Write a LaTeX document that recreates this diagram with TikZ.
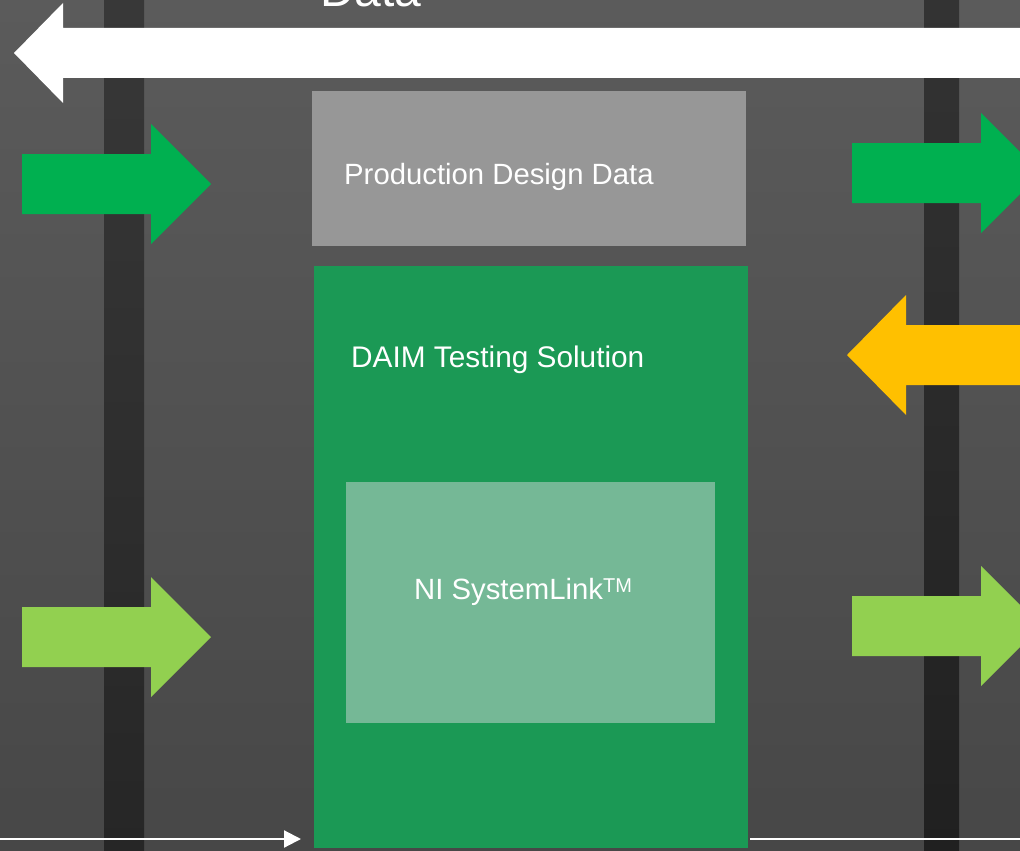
\documentclass[tikz,border=0pt]{standalone}
\usepackage{fontspec}
\setmainfont{Liberation Sans}
\usetikzlibrary{arrows.meta}
\definecolor{bgA}{HTML}{5B5B5B}
\definecolor{bgB}{HTML}{474747}
\definecolor{stripeA}{HTML}{383838}
\definecolor{stripeB}{HTML}{262626}
\definecolor{stripeC}{HTML}{333333}
\definecolor{stripeD}{HTML}{202020}
\definecolor{grayBox}{HTML}{979797}
\definecolor{greenBox}{HTML}{1B9955}
\definecolor{lightBox}{HTML}{75B896}
\definecolor{darkGreen}{HTML}{00B050}
\definecolor{yellowA}{HTML}{FFC000}
\definecolor{lightGreen}{HTML}{92D050}
\newcommand\RArrow[3]{%
  \fill[#3] (#1,#2-30) -- ({#1+129},#2-30) -- ({#1+129},#2-60) -- ({#1+189},#2)
    -- ({#1+129},#2+60) -- ({#1+129},#2+30) -- (#1,#2+30) -- cycle;}
\newcommand\LArrow[6]{%
  \fill[#6] (#1,#2) -- ({#1+#3},{#2-#5}) -- ({#1+#3},{#2-#4}) -- (1030,{#2-#4})
    -- (1030,{#2+#4}) -- ({#1+#3},{#2+#4}) -- ({#1+#3},{#2+#5}) -- cycle;}
\begin{document}
\begin{tikzpicture}[x=1pt,y=-1pt,
  box/.style={draw=none,inner sep=0pt,outer sep=0pt,anchor=north west},
  lbl/.style={text=white,inner sep=0pt,anchor=base west,font=\fontsize{29.3}{34}\selectfont},
  link/.style={draw=white,line width=2.2pt}]
\useasboundingbox (0,0) rectangle (1020,851);
\shade[top color=bgA,bottom color=bgB] (0,0) rectangle (1020,851);
% vertical stripes
\shade[top color=stripeA,bottom color=stripeB] (104,0) rectangle (144,851);
\shade[top color=stripeC,bottom color=stripeD] (924,0) rectangle (959,851);
% top white arrow and label
\node[text=white,inner sep=0pt,anchor=base west,font=\fontsize{48}{56}\selectfont] (data) at (320,7) {Data};
\LArrow{14}{53}{49}{25}{50}{white}
% boxes
\node[box,fill=grayBox,minimum width=434pt,minimum height=155pt] (pdd) at (312,91) {};
\node[lbl] (pddtext) at (344,184) {Production Design Data};
\node[box,fill=greenBox,minimum width=434pt,minimum height=582pt] (daim) at (314,266) {};
\node[lbl,font=\fontsize{29.8}{34}\selectfont] (daimtext) at (351,367) {DAIM Testing Solution};
\node[box,fill=lightBox,minimum width=369pt,minimum height=241pt] (nisl) at (346,482) {};
\node[lbl] (nisltext) at (414,599) {NI SystemLink{\fontsize{20}{20}\selectfont\raisebox{6.5pt}{TM}}};
% block arrows
\RArrow{22}{184}{darkGreen}
\RArrow{852}{173}{darkGreen}
\LArrow{847}{355}{59}{30}{60}{yellowA}
\RArrow{22}{637}{lightGreen}
\RArrow{852}{626}{lightGreen}
% bottom connectors
\coordinate (inL) at (0,839);
\coordinate (outR) at (1020,839);
\draw[link,-{Triangle[length=17pt,width=17pt]},shorten >=13pt] (inL) -- (daim.west |- inL);
\draw[link,shorten <=2pt] (daim.east |- outR) -- (outR);
\end{tikzpicture}
\end{document}
